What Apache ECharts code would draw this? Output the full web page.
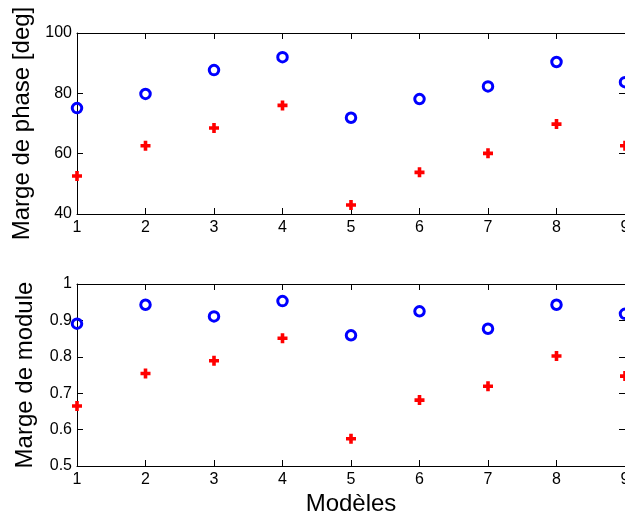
<!DOCTYPE html>
<html>
<head>
<meta charset="utf-8">
<script src="https://cdn.jsdelivr.net/npm/echarts@6/dist/echarts.min.js"></script>
<style>html,body{margin:0;padding:0;background:#fff;}#c{width:625px;height:515px;}</style>
</head>
<body>
<div id="c"></div>
<script>
var models = [1, 2, 3, 4, 5, 6, 7, 8, 9];
var phaseCircle = [75.1, 79.8, 87.7, 92.0, 71.9, 78.1, 82.3, 90.4, 83.7];
var phasePlus   = [52.6, 62.6, 68.5, 76.0, 43.0, 53.8, 60.1, 69.8, 62.6];
var moduleCircle = [0.891, 0.943, 0.911, 0.953, 0.859, 0.925, 0.877, 0.943, 0.918];
var modulePlus   = [0.665, 0.754, 0.789, 0.851, 0.575, 0.681, 0.719, 0.802, 0.747];
var phaseTicks = [40, 100, 20];
var moduleTicks = [0.5, 1, 0.1];

function pairs(xs, ys) { return xs.map(function (x, i) { return [x, ys[i]]; }); }

var FONT = 'Liberation Sans, Arial, sans-serif';
var plusPath = 'path://M3.2,0H6.8V3.2H10V6.8H6.8V10H3.2V6.8H0V3.2H3.2Z';

function xAx(gi, pos, showLabel, extra) {
  var a = {
    type: 'value', gridIndex: gi, position: pos, min: 1, max: 9, interval: 1,
    axisLine: { show: true, onZero: false, lineStyle: { color: '#000', width: 1 } },
    axisTick: { show: true, inside: true, length: 6, lineStyle: { color: '#000' } },
    axisLabel: { show: showLabel, color: '#000', fontSize: 16, fontFamily: FONT, margin: 6 },
    splitLine: { show: false }
  };
  for (var k in extra) a[k] = extra[k];
  return a;
}
function yAx(gi, pos, t, showLabel, extra) {
  var a = {
    type: 'value', gridIndex: gi, position: pos, min: t[0], max: t[1], interval: t[2],
    axisLine: { show: true, onZero: false, lineStyle: { color: '#000', width: 1 } },
    axisTick: { show: true, inside: true, length: 6, lineStyle: { color: '#000' } },
    axisLabel: { show: showLabel, color: '#000', fontSize: 16, fontFamily: FONT, margin: 5 },
    splitLine: { show: false }
  };
  for (var k in extra) a[k] = extra[k];
  return a;
}

var nameStyle = { color: '#000', fontSize: 24, fontFamily: FONT };
var circleStyle = { color: 'rgba(0,0,0,0)', borderColor: '#0000ff', borderWidth: 3, opacity: 1 };
var plusStyle = { color: '#ff0000', opacity: 1 };

var option = {
  backgroundColor: '#fff',
  animation: false,
  grid: [
    { left: 77, right: 0, top: 33, height: 181, outerBoundsMode: 'none', containLabel: false },
    { left: 77, right: 0, top: 284, height: 182, outerBoundsMode: 'none', containLabel: false }
  ],
  xAxis: [
    xAx(0, 'bottom', true, {}),
    xAx(1, 'bottom', true, { name: 'Modèles', nameLocation: 'middle', nameGap: 26, nameTextStyle: nameStyle }),
    xAx(0, 'top', false, {}),
    xAx(1, 'top', false, {})
  ],
  yAxis: [
    yAx(0, 'left', phaseTicks, true, { name: 'Marge de phase [deg]', nameLocation: 'middle', nameGap: 40, nameTextStyle: nameStyle }),
    yAx(1, 'left', moduleTicks, true, { name: 'Marge de module', nameLocation: 'middle', nameGap: 40, nameTextStyle: nameStyle }),
    yAx(0, 'right', phaseTicks, false, {}),
    yAx(1, 'right', moduleTicks, false, {})
  ],
  series: [
    { type: 'scatter', xAxisIndex: 0, yAxisIndex: 0, data: pairs(models, phaseCircle),
      symbol: 'circle', symbolSize: 9.5, itemStyle: circleStyle },
    { type: 'scatter', xAxisIndex: 0, yAxisIndex: 0, data: pairs(models, phasePlus),
      symbol: plusPath, symbolSize: 10, itemStyle: plusStyle },
    { type: 'scatter', xAxisIndex: 1, yAxisIndex: 1, data: pairs(models, moduleCircle),
      symbol: 'circle', symbolSize: 9.5, itemStyle: circleStyle },
    { type: 'scatter', xAxisIndex: 1, yAxisIndex: 1, data: pairs(models, modulePlus),
      symbol: plusPath, symbolSize: 10, itemStyle: plusStyle }
  ]
};

var chart = echarts.init(document.getElementById('c'), null, { renderer: 'canvas' });
chart.setOption(option);
</script>
</body>
</html>
